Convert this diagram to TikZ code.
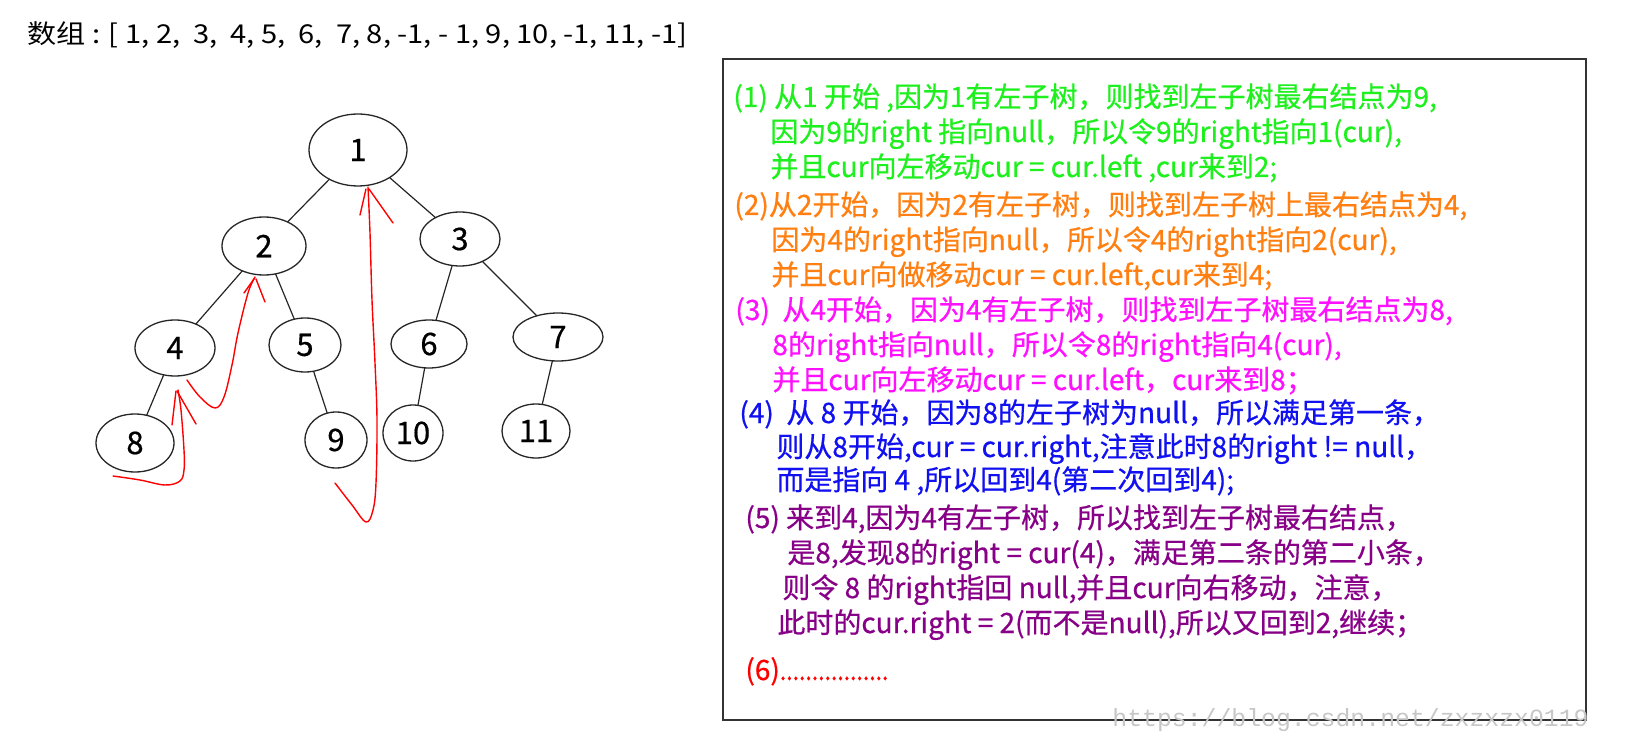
\documentclass[tikz,border=0pt]{standalone}
\usepackage{fontspec}
\usepackage{graphicx}
\usetikzlibrary{shapes.geometric}
\newfontfamily\cjk{Noto Sans CJK SC}
\newfontfamily\cjkb[FakeBold=0.6]{Noto Sans CJK SC}
\newfontfamily\wmfont{Liberation Mono}
\definecolor{cgreen}{HTML}{1EF01E}
\definecolor{corange}{HTML}{FF7F10}
\definecolor{cmagenta}{HTML}{FF10FF}
\definecolor{cblue}{HTML}{1010F0}
\definecolor{cpurple}{HTML}{880088}
\definecolor{cred}{HTML}{FF0000}
\begin{document}
\begin{tikzpicture}[x=0.5pt,y=-0.5pt,
  tn/.style={draw=black!85, line width=0.65pt, ellipse, inner sep=0pt, outer sep=0pt, font=\cjkb\fontsize{15.5}{15.5}\selectfont},
  edge/.style={draw=black!85, line width=0.6pt},
  trail/.style={draw=cred, line width=0.7pt, line cap=round, line join=round},
  txt/.style={anchor=base west, inner sep=0pt, font=\cjkb\fontsize{14}{14}\selectfont},
]
\useasboundingbox (0,0) rectangle (1626,732);
\fill[white] (0,0) rectangle (1626,732);

% title
\node[anchor=base west, inner sep=0pt, font=\cjk\fontsize{13}{13}\selectfont] (title) at (27,44)
  {\scalebox{1.12}[1]{数组 : [ 1, 2,\ \ 3,\ \ 4, 5,\ \ 6,\ \ 7, 8, -1, - 1, 9, 10, -1, 11, -1]}};

% tree nodes
\node[tn, minimum width=49pt, minimum height=36pt] (n1) at (358,150) {1};
\node[tn, minimum width=42pt, minimum height=29pt] (n2) at (264,246) {2};
\node[tn, minimum width=40pt, minimum height=27pt] (n3) at (460,239) {3};
\node[tn, minimum width=40pt, minimum height=28pt] (n4) at (175,348) {4};
\node[tn, minimum width=36pt, minimum height=27pt] (n5) at (305,345) {5};
\node[tn, minimum width=38pt, minimum height=24pt] (n6) at (429,344) {6};
\node[tn, minimum width=45pt, minimum height=24pt] (n7) at (558,337) {7};
\node[tn, minimum width=39pt, minimum height=29pt] (n8) at (135,443) {8};
\node[tn, minimum width=31pt, minimum height=28pt] (n9) at (336,440) {9};
\node[tn, minimum width=30pt, minimum height=28pt] (n10) at (413,433) {10};
\node[tn, minimum width=34pt, minimum height=27pt] (n11) at (536,431) {11};

% edges
\draw[edge] (n1) -- (n2);
\draw[edge] (n1) -- (n3);
\draw[edge] (n2) -- (n4);
\draw[edge] (n2) -- (n5);
\draw[edge] (n3) -- (n6);
\draw[edge] (n3) -- (n7);
\draw[edge] (n4) -- (n8);
\draw[edge] (n5) -- (n9);
\draw[edge] (n6) -- (n10);
\draw[edge] (n7) -- (n11);

% red threading sketches
\draw[trail] plot[smooth, tension=0.6] coordinates {(335,483) (352,505) (366,522) (373,510) (376,483) (377,420) (375,363) (372,300) (370,233) (368,187)};
\draw[trail] (360,215) -- (366,189);
\draw[trail] (369,189) -- (393,223);

\draw[trail] plot[smooth, tension=0.6] coordinates {(187,380) (200,397) (215,408) (224,397) (232,365) (238,333) (248,293) (255,277)};
\draw[trail] (244,293) -- (254,279);
\draw[trail] (256,279) -- (265,302);

\draw[trail] plot[smooth, tension=0.6] coordinates {(113,476) (140,480) (165,485) (180,481) (184,470) (184,450) (181,410) (178,390)};
\draw[trail] (172,425) -- (176,391);
\draw[trail] (177,391) -- (196,424);

% box
\draw[black!80, line width=0.8pt] (723,59) rectangle (1586,720);

% text lines
\node[txt, text=cgreen] (l1) at (733,107) {(1) 从1 开始 ,因为1有左子树，则找到左子树最右结点为9,};
\node[txt, text=cgreen] (l2) at (770,142) {因为9的right 指向null，所以令9的right指向1(cur),};
\node[txt, text=cgreen] (l3) at (770,177) {并且cur向左移动cur = cur.left ,cur来到2;};
\node[txt, text=corange] (l4) at (734,215) {(2)从2开始，因为2有左子树，则找到左子树上最右结点为4,};
\node[txt, text=corange] (l5) at (771,250) {因为4的right指向null，所以令4的right指向2(cur),};
\node[txt, text=corange] (l6) at (771,285) {并且cur向做移动cur = cur.left,cur来到4;};
\node[txt, text=cmagenta] (l7) at (735,320) {(3)\ \ 从4开始，因为4有左子树，则找到左子树最右结点为8,};
\node[txt, text=cmagenta] (l8) at (772,355) {8的right指向null，所以令8的right指向4(cur),};
\node[txt, text=cmagenta] (l9) at (772,390) {并且cur向左移动cur = cur.left，cur来到8；};
\node[txt, text=cblue] (l10) at (739,423) {(4)\ \ 从 8 开始，因为8的左子树为null，所以满足第一条，};
\node[txt, text=cblue] (l11) at (776,457) {则从8开始,cur = cur.right,注意此时8的right != null，};
\node[txt, text=cblue] (l12) at (776,490) {而是指向 4 ,所以回到4(第二次回到4);};
\node[txt, text=cpurple] (l13) at (745,528) {(5) 来到4,因为4有左子树，所以找到左子树最右结点，};
\node[txt, text=cpurple] (l14) at (787,563) {是8,发现8的right = cur(4)，满足第二条的第二小条，};
\node[txt, text=cpurple] (l15) at (782,598) {则令 8 的right指回 null,并且cur向右移动，注意，};
\node[txt, text=cpurple] (l16) at (777,633) {此时的cur.right = 2(而不是null),所以又回到2,继续；};
\node[txt, text=cred] (l17) at (745,680) {(6)\scalebox{0.82}[1]{.................}};

% watermark
\node[anchor=base west, inner sep=0pt, text=black!22, font=\wmfont\fontsize{12.4}{12.4}\selectfont] (wm) at (1112,726) {https://blog.csdn.net/zxzxzx0119};
\end{tikzpicture}
\end{document}
